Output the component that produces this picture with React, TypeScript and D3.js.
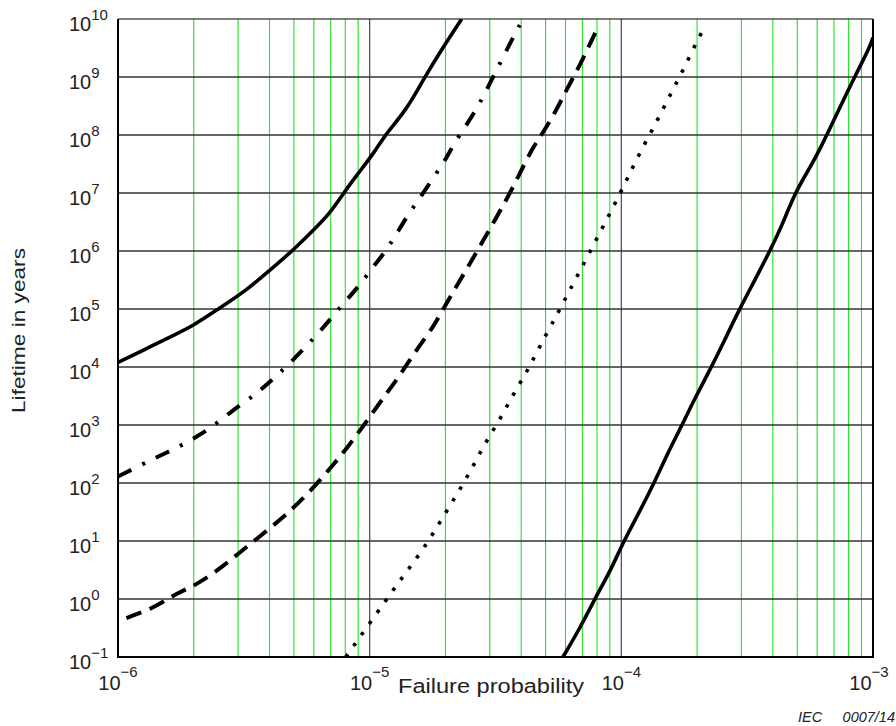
import React from "react";
import * as d3 from "d3";

// Failure probability (x) and lifetime in years (y)
const solidLeftX = [1.0e-6, 1.26e-6, 1.61e-6, 1.99e-6, 2.54e-6, 3.24e-6, 4.02e-6, 4.9e-6, 5.79e-6, 6.95e-6, 7.85e-6, 9.02e-6, 1.06e-5, 1.15e-5, 1.4e-5, 1.63e-5, 1.96e-5, 2.32e-5];
const solidLeftY = [1.2e4, 1.95e4, 3.3e4, 5.1e4, 1.05e5, 2.1e5, 4.7e5, 9.8e5, 2.0e6, 4.4e6, 9.8e6, 2.2e7, 5.5e7, 1.0e8, 2.7e8, 8.9e8, 3.3e9, 1.0e10];

const dashDotX = [1.0e-6, 1.21e-6, 1.45e-6, 1.71e-6, 2.06e-6, 2.39e-6, 2.83e-6, 3.44e-6, 3.99e-6, 4.79e-6, 6.07e-6, 6.95e-6, 7.98e-6, 9.06e-6, 1.02e-5, 1.15e-5, 1.26e-5, 1.42e-5, 1.58e-5, 1.79e-5, 2.0e-5, 2.18e-5, 2.45e-5, 2.74e-5, 3.1e-5, 3.61e-5, 3.95e-5];
const dashDotY = [1.3e2, 1.95e2, 2.9e2, 4.0e2, 6.3e2, 9.5e2, 1.74e3, 3.1e3, 5.4e3, 1.12e4, 3.3e4, 6.5e4, 1.35e5, 2.45e5, 5.0e5, 9.5e5, 1.78e6, 4.2e6, 8.1e6, 1.82e7, 3.7e7, 7.6e7, 1.58e8, 3.5e8, 1.02e9, 3.8e9, 7.9e9];

const dashedX = [1.08e-6, 1.38e-6, 1.71e-6, 2.11e-6, 2.66e-6, 3.24e-6, 4.02e-6, 4.9e-6, 5.87e-6, 7.06e-6, 8.22e-6, 9.72e-6, 1.13e-5, 1.32e-5, 1.53e-5, 1.79e-5, 1.93e-5, 2.21e-5, 2.51e-5, 2.74e-5, 3.56e-5, 3.95e-5, 4.47e-5, 4.82e-5, 5.53e-5, 6.05e-5, 6.84e-5, 7.73e-5, 7.98e-5];
const dashedY = [0.47, 0.69, 1.26, 1.86, 3.9, 7.9, 16.6, 34.7, 76, 190, 427, 1150, 2.9e3, 7.2e3, 1.95e4, 4.9e4, 8.9e4, 2.45e5, 6.2e5, 1.2e6, 8.7e6, 2.2e7, 6.3e7, 1.0e8, 2.7e8, 6.0e8, 1.58e9, 4.9e9, 6.5e9];

const dottedX = [8.04e-6, 1.2e-5, 1.4e-5, 1.64e-5, 1.9e-5, 2.18e-5, 2.51e-5, 2.83e-5, 3.27e-5, 3.72e-5, 4.27e-5, 4.78e-5, 5.48e-5, 5.83e-5, 9.7e-5, 1.08e-4, 1.22e-4, 1.39e-4, 1.57e-4, 1.78e-4, 2.0e-4, 2.13e-4];
const dottedY = [0.1, 1.17, 2.95, 7.4, 20.9, 56, 155, 437, 1175, 3.4e3, 9.1e3, 2.45e4, 7.2e4, 1.2e5, 8.1e6, 2.2e7, 6.3e7, 1.78e8, 5.1e8, 1.45e9, 4.2e9, 6.9e9];

const solidRightX = [5.86e-5, 6.84e-5, 7.85e-5, 9.02e-5, 1.02e-4, 1.19e-4, 1.35e-4, 1.53e-4, 1.73e-4, 1.96e-4, 2.25e-4, 2.54e-4, 2.94e-4, 3.4e-4, 3.89e-4, 4.27e-4, 4.9e-4, 5.45e-4, 6.15e-4, 7.62e-4, 8.59e-4, 9.72e-4, 1.0e-3];
const solidRightY = [0.1, 0.31, 1.02, 2.95, 9.8, 34, 100, 331, 933, 2.9e3, 8.9e3, 2.57e4, 9.8e4, 3.2e5, 1.0e6, 2.3e6, 1.0e7, 2.2e7, 5.5e7, 4.0e8, 1.15e9, 3.3e9, 4.8e9];

// Axis decades
const xDecades = [-6, -5, -4, -3];
const yDecades = [-1, 0, 1, 2, 3, 4, 5, 6, 7, 8, 9, 10];
const minorSteps = [2, 3, 4, 5, 6, 7, 8, 9];

const xTitle = "Failure probability";
const yTitle = "Lifetime in years";
const sourceTag = ["IEC", "0007/14"];

const W = 896;
const H = 726;
const plot = { left: 118, right: 873, top: 19, bottom: 657 };
const FONT = "'Liberation Sans', Arial, Helvetica, sans-serif";

const fmtExp = (e: number) => (e < 0 ? "\u2212" + Math.abs(e) : String(e));

export default function App() {
  const x = d3.scaleLog().domain([1e-6, 1e-3]).range([plot.left, plot.right]);
  const y = d3.scaleLog().domain([1e-1, 1e10]).range([plot.bottom, plot.top]);

  const line = d3
    .line<[number, number]>()
    .x((d) => x(d[0]))
    .y((d) => y(d[1]))
    .curve(d3.curveBasis);

  const zip = (xs: number[], ys: number[]) => xs.map((v, i) => [v, ys[i]] as [number, number]);

  const series = [
    { key: "solidLeft", d: line(zip(solidLeftX, solidLeftY)), dash: undefined, width: 3.6 },
    { key: "dashDot", d: line(zip(dashDotX, dashDotY)), dash: "15 12 3 12", width: 4 },
    { key: "dashed", d: line(zip(dashedX, dashedY)), dash: "16 9", width: 4 },
    { key: "dotted", d: line(zip(dottedX, dottedY)), dash: "3.5 10", width: 3.6 },
    { key: "solidRight", d: line(zip(solidRightX, solidRightY)), dash: undefined, width: 3.6 },
  ];

  const minorX: number[] = [];
  for (let k = -6; k < -3; k++) minorSteps.forEach((m) => minorX.push(m * Math.pow(10, k)));

  return (
    <svg width={W} height={H} style={{ display: "block", position: "absolute", left: 0, top: 0 }} fontFamily={FONT}>
      <rect x={0} y={0} width={W} height={H} fill="#fff" />
      <defs>
        <clipPath id="plotClip">
          <rect x={plot.left} y={plot.top} width={plot.right - plot.left} height={plot.bottom - plot.top} />
        </clipPath>
      </defs>

      {/* minor vertical grid */}
      {minorX.map((v) => (
        <line key={"mx" + v} x1={x(v)} x2={x(v)} y1={plot.top} y2={plot.bottom} stroke="#1ee61e" strokeWidth={1.1} />
      ))}
      {/* decade vertical grid */}
      {xDecades.slice(1, -1).map((e) => (
        <line key={"dx" + e} x1={x(Math.pow(10, e))} x2={x(Math.pow(10, e))} y1={plot.top} y2={plot.bottom} stroke="#555" strokeWidth={1.3} />
      ))}
      {/* horizontal decade grid */}
      {yDecades.slice(1, -1).map((e) => (
        <line key={"hy" + e} x1={plot.left} x2={plot.right} y1={y(Math.pow(10, e))} y2={y(Math.pow(10, e))} stroke="#333" strokeWidth={1.3} />
      ))}

      <g clipPath="url(#plotClip)">
        {series.map((s) => (
          <path key={s.key} d={s.d || ""} fill="none" stroke="#000" strokeWidth={s.width} strokeDasharray={s.dash} strokeLinejoin="round" />
        ))}
      </g>

      {/* frame */}
      <line x1={plot.left} x2={plot.right} y1={plot.top} y2={plot.top} stroke="#000" strokeWidth={1.2} />
      <line x1={plot.left} x2={plot.left} y1={plot.top} y2={plot.bottom} stroke="#000" strokeWidth={2} />
      <line x1={plot.right} x2={plot.right} y1={plot.top} y2={plot.bottom} stroke="#000" strokeWidth={2} />
      <line x1={plot.left - 1} x2={plot.right + 1} y1={plot.bottom} y2={plot.bottom} stroke="#000" strokeWidth={2} />

      {/* y tick labels */}
      {yDecades.map((e) => (
        <text key={"yl" + e} x={69} y={y(Math.pow(10, e)) + 11.5} fontSize={20} fill="#222">
          <tspan>10</tspan>
          <tspan fontSize={15} dy={-11}>{fmtExp(e)}</tspan>
        </text>
      ))}

      {/* x tick labels */}
      {xDecades.map((e) => (
        <text key={"xl" + e} x={x(Math.pow(10, e)) - (e === -3 ? 4 : 0)} y={690} fontSize={20} fill="#222" textAnchor="middle">
          <tspan>10</tspan>
          <tspan fontSize={15} dy={-13}>{fmtExp(e)}</tspan>
        </text>
      ))}

      <text x={398} y={693} fontSize={19.5} fill="#222" textLength={186} lengthAdjust="spacingAndGlyphs">{xTitle}</text>
      <text transform={`translate(25,413) rotate(-90)`} fontSize={19} fill="#222" textLength={165} lengthAdjust="spacingAndGlyphs">{yTitle}</text>

      <text x={798} y={722} fontSize={14.5} fontStyle="italic" fill="#222">{sourceTag[0]}</text>
      <text x={895} y={722} fontSize={14.5} fontStyle="italic" fill="#222" textAnchor="end">{sourceTag[1]}</text>
    </svg>
  );
}
